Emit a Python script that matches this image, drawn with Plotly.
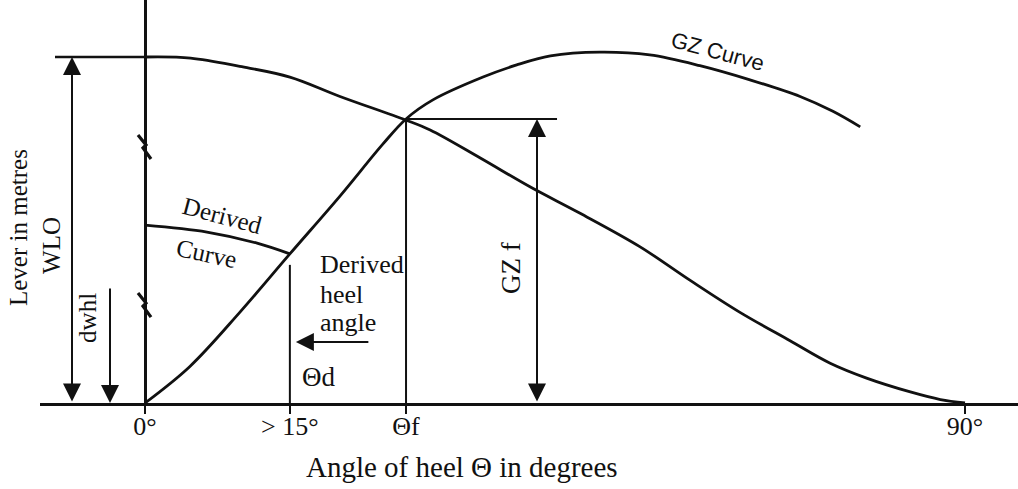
import plotly.graph_objects as go

# Heel angles (deg) and lever values (lever scaled so WLO = 1)
WLO_ANGLE = [0, 5, 10.4, 15.9, 21.4, 28.6, 31.3, 36.8, 42.3, 47.7, 54.3, 59.8, 65.3, 70.8, 75.2, 79.2, 84.0, 87.3, 90]
WLO_LEVER = [1.0, 0.997, 0.973, 0.942, 0.886, 0.818, 0.789, 0.708, 0.624, 0.549, 0.452, 0.355, 0.262, 0.180,
             0.115, 0.072, 0.032, 0.010, 0]

GZ_ANGLE = [0, 4.9, 10.4, 15.9, 21.4, 26.1, 28.65, 31.6, 37.1, 40.8, 44.5, 49.9, 55.4, 60.9, 66.4, 71.9, 75.5, 78.5]
GZ_LEVER = [0, 0.105, 0.262, 0.431, 0.598, 0.748, 0.821, 0.876, 0.942, 0.977, 1.003, 1.014, 1.006, 0.975,
            0.934, 0.886, 0.843, 0.798]

DERIVED_ANGLE = [0, 6.8, 12.3, 15.9]
DERIVED_LEVER = [0.514, 0.494, 0.462, 0.431]

THETA_D = 15.9      # derived heel angle
THETA_F = 28.65     # where GZ meets the WLO curve
WLO = 1.0
GZ_F = 0.821
DWHL = 0.335

TICK_VALS = [0, THETA_D, THETA_F, 90]
TICK_TEXT = ["0°", "> 15°", "Θf", "90°"]

INK = "#111111"
SERIF = "Liberation Serif, Times New Roman, serif"
SANS = "Liberation Sans, Arial, sans-serif"

# x: 1 px = 90/820 deg, y: 1 px = 1/346 lever
PX_X = 90 / 820
PX_Y = 1 / 346

fig = go.Figure()
for xs, ys in [(WLO_ANGLE, WLO_LEVER), (GZ_ANGLE, GZ_LEVER), (DERIVED_ANGLE, DERIVED_LEVER)]:
    fig.add_trace(go.Scatter(
        x=xs, y=ys, mode="lines",
        line=dict(color=INK, width=2.8, shape="spline", smoothing=1.0),
        hoverinfo="skip",
    ))

line = dict(color=INK, width=2)
# WLO reference extension to the left of the lever axis
fig.add_shape(type="line", x0=-90 * PX_X, x1=0, y0=WLO, y1=WLO, line=dict(color=INK, width=2.6))
# verticals at the derived angle and at theta f
fig.add_shape(type="line", x0=THETA_D, x1=THETA_D, y0=0, y1=GZ_LEVER[3] - 11 * PX_Y, line=line)
fig.add_shape(type="line", x0=THETA_F, x1=THETA_F, y0=0, y1=GZ_F, line=line)
# GZ f level
fig.add_shape(type="line", x0=THETA_F, x1=THETA_F + 151 * PX_X, y0=GZ_F, y1=GZ_F, line=line)

# break marks on the lever axis
for yb in [0.74, 0.283]:
    pts = [(-7, 12), (1, 2), (-2, -1), (6, -12)]
    path = "M " + " L ".join(f"{dx * PX_X},{yb + dy * PX_Y}" for dx, dy in pts)
    fig.add_shape(type="path", path=path, line=dict(color=INK, width=3.2))


def arrow(x, y, ax, ay, both=False):
    fig.add_annotation(
        x=x, y=y, ax=ax, ay=ay, xref="x", yref="y", axref="x", ayref="y",
        text="", showarrow=True, arrowhead=2, arrowsize=1.8, arrowwidth=2,
        arrowcolor=INK, arrowside="end+start" if both else "end",
        startarrowhead=2, startarrowsize=1.8, standoff=0, startstandoff=0,
    )


arrow(-73 * PX_X, WLO, -73 * PX_X, 0, both=True)
arrow(-35 * PX_X, 0, -35 * PX_X, DWHL)
arrow(392 * PX_X, GZ_F, 392 * PX_X, 0, both=True)
arrow(THETA_D + 6 * PX_X, 0.176, THETA_D + 80 * PX_X, 0.176)


def label(text, x, y, size=25, angle=0, family=SERIF, **kw):
    fig.add_annotation(x=x, y=y, xref="x", yref="y", text=text, showarrow=False,
                       textangle=angle, font=dict(family=family, size=size, color=INK), **kw)


def paper_label(text, px, py, size=25, angle=0):
    # positions given in page pixels of the 1018x489 frame
    fig.add_annotation(x=(px - 40) / 978, y=(403 - py) / 403, xref="paper", yref="paper",
                       xanchor="center", yanchor="middle",
                       text=text, showarrow=False, textangle=angle,
                       font=dict(family=SERIF, size=size, color=INK))


paper_label("Lever in metres", 18, 228, angle=-90)
paper_label("Angle of heel Θ in degrees", 462, 467, size=29)
label("WLO", -93 * PX_X, 0.454, angle=-90)
label("dwhl", -57 * PX_X, 0.246, angle=-90)
label("Derived", 77 * PX_X, 0.543, angle=15)
label("Curve", 61 * PX_X, 0.431, angle=12)
label("GZ Curve", 572 * PX_X, 1.015, angle=15, family=SANS, size=22)
for txt, py in [("Derived", 264), ("heel", 294), ("angle", 322)]:
    label(txt, THETA_D + 28 * PX_X, (403 - py) * PX_Y, xanchor="left", size=26)
label("Θd", THETA_D + 29 * PX_X, 0.075, size=27)
label("GZ f", 366 * PX_X, 0.390, angle=-90, size=27)

fig.update_layout(
    width=1018, height=489,
    margin=dict(l=40, r=0, t=0, b=86),
    paper_bgcolor="white", plot_bgcolor="white",
    showlegend=False,
    xaxis=dict(
        range=[-105 * PX_X, 873 * PX_X], showgrid=False, zeroline=False,
        showline=True, linecolor=INK, linewidth=2.6,
        ticks="outside", ticklen=8, tickwidth=2, tickcolor=INK,
        tickvals=TICK_VALS, ticktext=TICK_TEXT, ticklabelstandoff=-10,
        tickfont=dict(family=SERIF, size=26, color=INK),
    ),
    yaxis=dict(
        range=[0, 403 * PX_Y], showgrid=False, zeroline=False,
        showline=True, linecolor=INK, linewidth=2.6,
        anchor="free", position=105 / 978, showticklabels=False, ticks="",
    ),
)

fig.write_html("out.html", config={"displayModeBar": False},
               post_script="document.body.style.margin = '0px';")
